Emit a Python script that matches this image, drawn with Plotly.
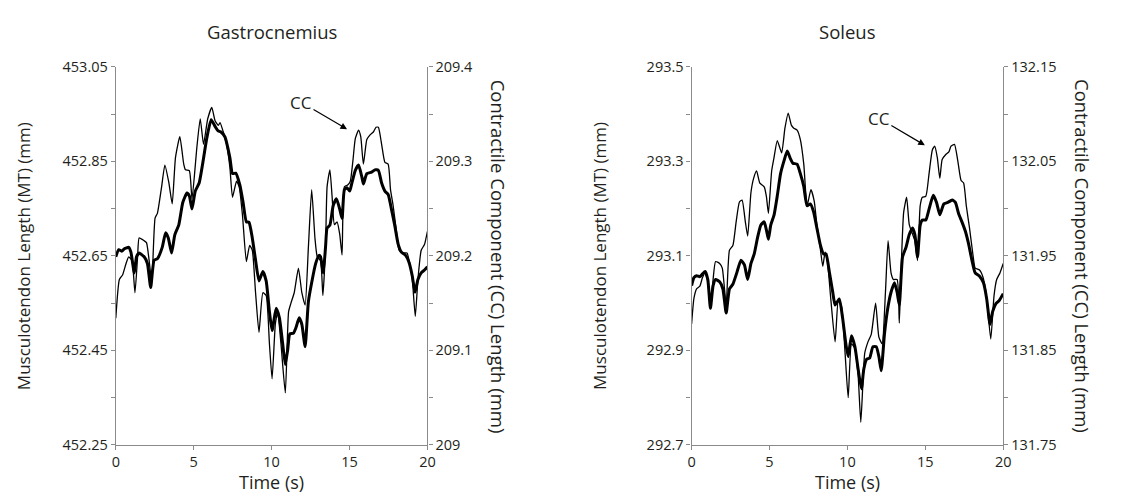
import plotly.graph_objects as go

# ---------------- data ----------------
gas_mt_t = [0.00, 0.19, 0.40, 0.55, 0.83, 0.97, 1.19, 1.33, 1.50, 1.82, 2.03, 2.24, 2.46, 2.67, 2.98, 3.20, 3.37, 3.58, 3.79, 4.04,
            4.30, 4.57, 4.72, 4.89, 5.10, 5.35, 5.57, 5.84, 6.12, 6.37, 6.55, 6.75, 7.00, 7.32, 7.49, 7.70, 7.96, 8.17, 8.38, 8.55,
            8.76, 8.97, 9.19, 9.44, 9.65, 9.86, 10.03, 10.29, 10.50, 10.71, 10.88, 11.03, 11.17, 11.39, 11.56, 11.77, 11.94, 12.15,
            12.36, 12.61, 12.83, 13.04, 13.14, 13.31, 13.46, 13.56, 13.74, 13.95, 14.16, 14.37, 14.52, 14.67, 14.84, 15.01, 15.15,
            15.37, 15.58, 15.79, 15.89, 16.11, 16.42, 16.63, 16.85, 17.06, 17.27, 17.48, 17.69, 17.90, 18.12, 18.33, 18.60, 18.81,
            19.03, 19.20, 19.39, 19.60, 19.81, 20.00]
gas_mt = [452.648, 452.663, 452.660, 452.665, 452.668, 452.658, 452.614, 452.648, 452.656, 452.648, 452.634, 452.583, 452.641,
          452.644, 452.668, 452.699, 452.688, 452.656, 452.695, 452.715, 452.763, 452.783, 452.777, 452.749, 452.787, 452.804,
          452.844, 452.899, 452.938, 452.924, 452.915, 452.912, 452.902, 452.858, 452.824, 452.825, 452.800, 452.763, 452.722,
          452.721, 452.688, 452.641, 452.597, 452.617, 452.597, 452.532, 452.492, 452.539, 452.519, 452.464, 452.420, 452.451,
          452.485, 452.486, 452.498, 452.519, 452.505, 452.458, 452.553, 452.600, 452.634, 452.651, 452.648, 452.614, 452.668,
          452.709, 452.715, 452.756, 452.771, 452.749, 452.729, 452.790, 452.794, 452.787, 452.804, 452.831, 452.842, 452.817,
          452.802, 452.824, 452.827, 452.832, 452.831, 452.804, 452.787, 452.780, 452.749, 452.715, 452.675, 452.658, 452.651,
          452.637, 452.607, 452.573, 452.600, 452.614, 452.620, 452.627]

gas_cc_t = [0.00, 0.23, 0.44, 0.66, 0.83, 1.04, 1.23, 1.40, 1.50, 1.82, 1.97, 2.14, 2.31, 2.52, 2.67, 2.94, 3.15, 3.41, 3.62, 3.83,
            4.11, 4.36, 4.47, 4.72, 4.89, 5.21, 5.42, 5.63, 5.90, 6.16, 6.37, 6.58, 6.69, 6.90, 7.11, 7.32, 7.49, 7.75, 7.92, 8.13,
            8.38, 8.59, 8.76, 8.97, 9.19, 9.44, 9.65, 9.86, 10.03, 10.24, 10.39, 10.60, 10.88, 11.09, 11.24, 11.45, 11.72, 11.94,
            12.15, 12.36, 12.57, 12.78, 12.93, 13.14, 13.29, 13.46, 13.56, 13.74, 13.88, 14.03, 14.20, 14.37, 14.52, 14.67, 14.88,
            15.05, 15.22, 15.37, 15.58, 15.72, 15.89, 16.11, 16.32, 16.53, 16.70, 16.85, 17.06, 17.27, 17.48, 17.63, 17.80, 18.01,
            18.18, 18.43, 18.69, 18.86, 19.03, 19.22, 19.39, 19.60, 19.81, 20.00]
gas_cc = [209.134, 209.175, 209.180, 209.192, 209.199, 209.195, 209.161, 209.199, 209.219, 209.216, 209.214, 209.195, 209.172,
          209.240, 209.245, 209.273, 209.296, 209.277, 209.255, 209.304, 209.326, 209.297, 209.291, 209.290, 209.260, 209.316,
          209.345, 209.318, 209.345, 209.357, 209.343, 209.338, 209.341, 209.331, 209.318, 209.294, 209.262, 209.279, 209.273,
          209.243, 209.194, 209.211, 209.206, 209.161, 209.119, 209.161, 209.158, 209.107, 209.070, 209.128, 209.141, 209.107,
          209.055, 209.141, 209.150, 209.161, 209.187, 209.161, 209.148, 209.209, 209.270, 209.219, 209.199, 209.195, 209.158,
          209.209, 209.273, 209.291, 209.263, 209.233, 209.236, 209.223, 209.201, 209.273, 209.275, 209.279, 209.301, 209.324,
          209.333, 209.326, 209.297, 209.323, 209.328, 209.331, 209.336, 209.336, 209.318, 209.299, 209.297, 209.270, 209.253,
          209.226, 209.206, 209.203, 209.203, 209.192, 209.175, 209.136, 209.175, 209.206, 209.212, 209.226]

sol_mt_t = [0.00, 0.15, 0.32, 0.53, 0.70, 0.87, 1.04, 1.21, 1.38, 1.54, 1.80, 2.01, 2.22, 2.43, 2.65, 2.90, 3.17, 3.39, 3.60, 3.81,
            4.02, 4.23, 4.44, 4.66, 4.80, 4.93, 5.08, 5.29, 5.50, 5.71, 5.93, 6.14, 6.35, 6.50, 6.77, 6.98, 7.20, 7.41, 7.62, 7.83,
            8.04, 8.25, 8.47, 8.63, 8.85, 9.06, 9.21, 9.48, 9.69, 9.90, 10.05, 10.26, 10.48, 10.69, 10.90, 11.05, 11.22, 11.43,
            11.64, 11.85, 12.02, 12.17, 12.38, 12.59, 12.80, 13.02, 13.19, 13.33, 13.54, 13.76, 13.97, 14.18, 14.33, 14.50, 14.67,
            14.81, 15.03, 15.24, 15.51, 15.72, 15.93, 16.19, 16.44, 16.72, 16.93, 17.14, 17.35, 17.57, 17.78, 17.99, 18.20, 18.48,
            18.73, 18.94, 19.15, 19.32, 19.53, 19.75, 20.00]
sol_mt = [293.037, 293.054, 293.058, 293.056, 293.062, 293.067, 293.050, 292.989, 293.037, 293.050, 293.045, 293.030, 292.979,
          293.030, 293.040, 293.064, 293.091, 293.081, 293.050, 293.084, 293.104, 293.138, 293.165, 293.172, 293.155, 293.135,
          293.165, 293.186, 293.227, 293.274, 293.301, 293.322, 293.305, 293.296, 293.294, 293.274, 293.247, 293.206, 293.210,
          293.193, 293.159, 293.125, 293.104, 293.104, 293.064, 293.023, 292.996, 293.009, 292.969, 292.914, 292.887, 292.931,
          292.908, 292.860, 292.819, 292.860, 292.881, 292.884, 292.908, 292.908, 292.887, 292.857, 292.935, 292.989, 293.023,
          293.043, 293.023, 292.996, 293.098, 293.118, 293.145, 293.159, 293.145, 293.098, 293.165, 293.176, 293.176, 293.199,
          293.228, 293.213, 293.187, 293.210, 293.213, 293.218, 293.213, 293.189, 293.172, 293.152, 293.125, 293.091, 293.064,
          293.057, 293.043, 293.009, 292.955, 292.982, 292.999, 293.006, 293.020]

sol_cc_t = [0.00, 0.15, 0.32, 0.53, 0.70, 0.87, 1.04, 1.21, 1.38, 1.54, 1.80, 1.97, 2.22, 2.43, 2.65, 2.86, 3.07, 3.24, 3.45, 3.60,
            3.81, 3.98, 4.17, 4.38, 4.66, 4.80, 4.93, 5.14, 5.29, 5.50, 5.78, 5.99, 6.20, 6.41, 6.56, 6.77, 6.98, 7.20, 7.41, 7.66,
            7.87, 8.04, 8.25, 8.42, 8.57, 8.72, 8.93, 9.21, 9.42, 9.63, 9.84, 10.05, 10.26, 10.48, 10.69, 10.86, 11.11, 11.32,
            11.53, 11.81, 12.02, 12.23, 12.44, 12.61, 12.80, 12.95, 13.19, 13.33, 13.44, 13.61, 13.80, 13.97, 14.18, 14.33, 14.50,
            14.67, 14.81, 15.03, 15.24, 15.45, 15.60, 15.77, 15.93, 16.08, 16.30, 16.51, 16.65, 16.87, 17.08, 17.29, 17.46, 17.63,
            17.84, 18.05, 18.20, 18.48, 18.69, 18.90, 19.20, 19.41, 19.58, 19.79, 20.00]
sol_cc = [131.878, 131.905, 131.915, 131.918, 131.927, 131.932, 131.923, 131.895, 131.925, 131.944, 131.942, 131.937, 131.898,
          131.956, 131.961, 131.986, 132.007, 132.009, 131.986, 131.971, 132.017, 132.032, 132.040, 132.027, 132.023, 132.013,
          131.995, 132.040, 132.054, 132.072, 132.059, 132.085, 132.101, 132.088, 132.085, 132.083, 132.073, 132.047, 132.003,
          132.020, 132.008, 131.983, 131.959, 131.939, 131.954, 131.944, 131.905, 131.859, 131.905, 131.896, 131.850, 131.800,
          131.857, 131.852, 131.823, 131.774, 131.847, 131.859, 131.867, 131.900, 131.864, 131.857, 131.911, 131.966, 131.932,
          131.925, 131.925, 131.879, 131.932, 131.996, 132.012, 131.983, 131.973, 131.966, 131.945, 132.003, 132.012, 132.013,
          132.037, 132.062, 132.066, 132.054, 132.032, 132.052, 132.057, 132.060, 132.066, 132.068, 132.051, 132.030, 132.027,
          132.003, 131.979, 131.952, 131.937, 131.935, 131.928, 131.911, 131.862, 131.908, 131.925, 131.932, 131.942]

time_ticks = [0, 5, 10, 15, 20]
gas_mt_ticks = [452.25, 452.35, 452.45, 452.55, 452.65, 452.75, 452.85, 452.95, 453.05]
gas_mt_labels = ["452.25", "", "452.45", "", "452.65", "", "452.85", "", "453.05"]
gas_cc_ticks = [209.0, 209.05, 209.1, 209.15, 209.2, 209.25, 209.3, 209.35, 209.4]
gas_cc_labels = ["209", "", "209.1", "", "209.2", "", "209.3", "", "209.4"]
sol_mt_ticks = [292.7, 292.8, 292.9, 293.0, 293.1, 293.2, 293.3, 293.4, 293.5]
sol_mt_labels = ["292.7", "", "292.9", "", "293.1", "", "293.3", "", "293.5"]
sol_cc_ticks = [131.75, 131.80, 131.85, 131.90, 131.95, 132.00, 132.05, 132.10, 132.15]
sol_cc_labels = ["131.75", "", "131.85", "", "131.95", "", "132.05", "", "132.15"]

# ---------------- figure ----------------
W, H = 1125, 504
FONT = "Open Sans"
TXT = "#231f20"
AXC = "#8a8a8a"

fig = go.Figure()

def line(x, y, xa, ya, w):
    fig.add_trace(go.Scatter(x=x, y=y, xaxis=xa, yaxis=ya, mode="lines",
                             line=dict(color="black", width=w, shape="spline", smoothing=0.5),
                             showlegend=False, hoverinfo="skip"))

line(gas_cc_t, gas_cc, "x", "y2", 1.3)
line(gas_mt_t, gas_mt, "x", "y", 3)
line(sol_cc_t, sol_cc, "x2", "y4", 1.3)
line(sol_mt_t, sol_mt, "x2", "y3", 3)

ydom = [(504 - 452) / H, (504 - 59) / H]
xdom1 = [113 / W, 428 / W]
xdom2 = [695 / W, 1010 / W]

common = dict(showgrid=False, zeroline=False, showline=True, linecolor=AXC, linewidth=1.2,
              ticks="outside", ticklen=4, tickcolor=AXC, tickwidth=1,
              tickfont=dict(family=FONT, size=14.5, color=TXT))

fig.update_layout(
    width=W, height=H, autosize=False,
    margin=dict(l=0, r=0, t=0, b=0),
    paper_bgcolor="white", plot_bgcolor="white",
    font=dict(family=FONT, color=TXT),
    xaxis=dict(domain=xdom1, range=[0, 20], anchor="y", tickvals=time_ticks, **common),
    yaxis=dict(domain=ydom, range=[452.25, 453.05], anchor="x", side="left",
               tickvals=gas_mt_ticks, ticktext=gas_mt_labels, **common),
    yaxis2=dict(range=[209.0, 209.4], anchor="x", overlaying="y", side="right",
                tickvals=gas_cc_ticks, ticktext=gas_cc_labels, **common),
    xaxis2=dict(domain=xdom2, range=[0, 20], anchor="y3", tickvals=time_ticks, **common),
    yaxis3=dict(domain=ydom, range=[292.7, 293.5], anchor="x2", side="left",
                tickvals=sol_mt_ticks, ticktext=sol_mt_labels, **common),
    yaxis4=dict(range=[131.75, 132.15], anchor="x2", overlaying="y3", side="right",
                tickvals=sol_cc_ticks, ticktext=sol_cc_labels, **common),
)

ymid = 1 - 256 / H
anns = [
    dict(text="Gastrocnemius", x=270.5 / W, y=1 - 22 / H, size=18.5),
    dict(text="Soleus", x=852.5 / W, y=1 - 22 / H, size=18.5),
    dict(text="Time (s)", x=270.5 / W, y=1 - 491 / H, size=18),
    dict(text="Time (s)", x=852.5 / W, y=1 - 491 / H, size=18),
    dict(text="Musculotendon Length (MT) (mm)", x=20 / W, y=ymid, textangle=-90, size=17),
    dict(text="Contractile Component (CC) Length (mm)", x=500 / W, y=ymid, textangle=90, size=18.5),
    dict(text="Musculotendon Length (MT) (mm)", x=602 / W, y=ymid, textangle=-90, size=17),
    dict(text="Contractile Component (CC) Length (mm)", x=1090 / W, y=ymid, textangle=90, size=18.5),
]
for a in anns:
    size = a.pop("size")
    fig.add_annotation(xref="paper", yref="paper", showarrow=False, xanchor="center", yanchor="middle",
                       font=dict(family=FONT, color=TXT, size=size), **a)

# CC arrows
fig.add_annotation(x=14.84, y=209.334, xref="x", yref="y2", text="CC", showarrow=True,
                   ax=-46, ay=-27, arrowhead=2, arrowsize=1.1, arrowwidth=1.2, arrowcolor="black",
                   font=dict(family=FONT, size=17, color=TXT))
fig.add_annotation(x=14.97, y=132.067, xref="x2", yref="y4", text="CC", showarrow=True,
                   ax=-46, ay=-27, arrowhead=2, arrowsize=1.1, arrowwidth=1.2, arrowcolor="black",
                   font=dict(family=FONT, size=17, color=TXT))

fig.write_html("out.html")
